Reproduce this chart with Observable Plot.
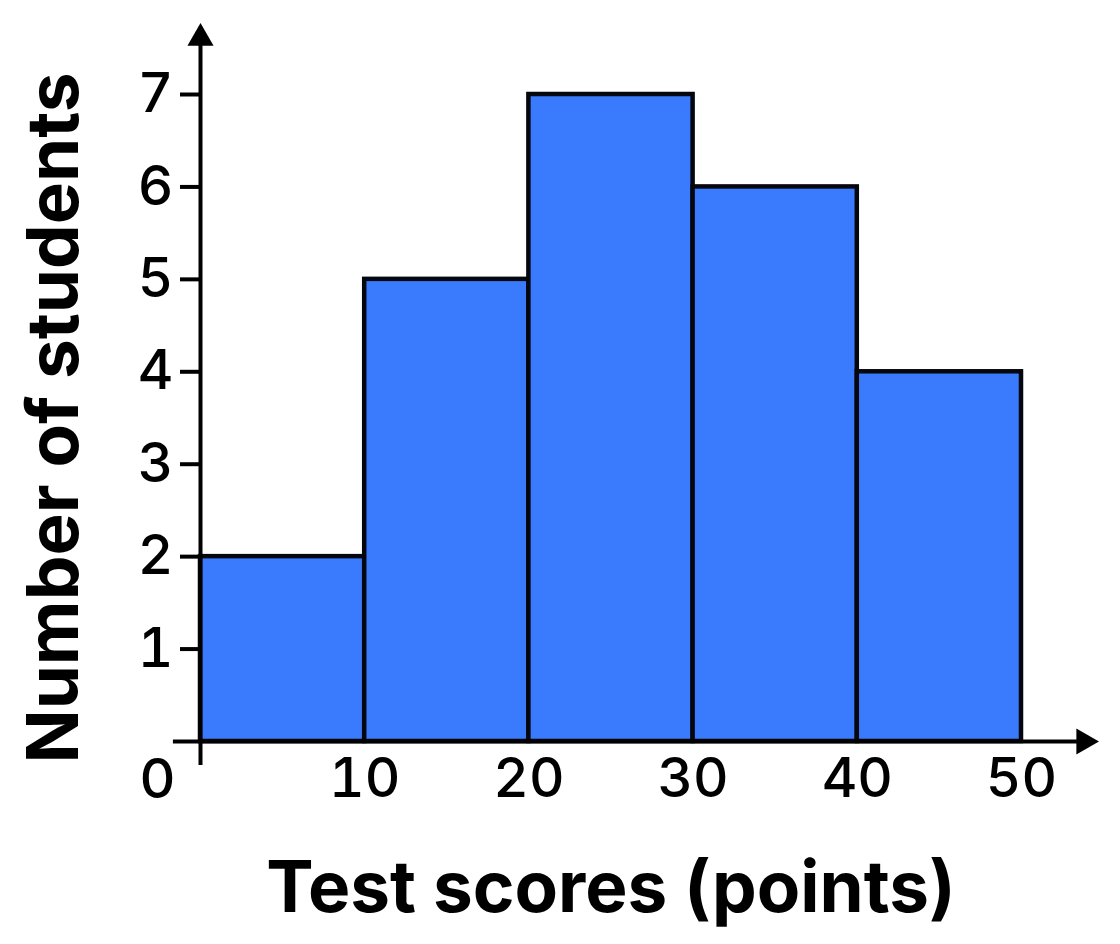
<!DOCTYPE html>
<html>
<head>
<meta charset="utf-8">
<script src="https://cdn.jsdelivr.net/npm/d3@7"></script>
<script src="https://cdn.jsdelivr.net/npm/@observablehq/plot@0.6"></script>
<style>
  html, body { margin: 0; padding: 0; background: #ffffff; }
  #chart svg { display: block; }
</style>
</head>
<body>
<div id="chart"></div>
<script>
// Data
const binStarts = [0, 10, 20, 30, 40];
const binEnds = [10, 20, 30, 40, 50];
const counts = [2, 5, 7, 6, 4];
const xTickValues = [10, 20, 30, 40, 50];
const yTickValues = [1, 2, 3, 4, 5, 6, 7];
const xTitle = "Test scores (points)";
const yTitle = "Number of students";

const bins = binStarts.map((x1, i) => ({x1, x2: binEnds[i], count: counts[i]}));

const font = "Inter, 'Open Sans', sans-serif";
const ink = "#000000";

const chart = Plot.plot({
  width: 1120,
  height: 944,
  marginLeft: 200,
  marginRight: 99,
  marginTop: 94,
  marginBottom: 203,
  style: {fontFamily: font, background: "#ffffff", color: ink},
  x: {domain: [0, 50]},
  y: {domain: [0, 7]},
  marks: [
    Plot.rectY(bins, {x1: "x1", x2: "x2", y1: 0, y2: "count", fill: "#3a7bfd", stroke: "#05070f", strokeWidth: 4.5, inset: 0}),
    // axis lines
    Plot.ruleX([0], {y1: -0.26, y2: 7.6, stroke: ink, strokeWidth: 4}),
    Plot.ruleY([0], {x1: -1.65, x2: 53.5, stroke: ink, strokeWidth: 4}),
    // arrow heads
    Plot.dot([{x: 0, y: 7.61}], {x: "x", y: "y", symbol: "triangle", r: 9.7, fill: ink, stroke: null}),
    Plot.dot([{x: 53.8, y: 0}], {x: "x", y: "y", symbol: "triangle", r: 9.7, fill: ink, stroke: null, rotate: 90}),
    // axes
    Plot.axisY(yTickValues, {tickSize: 20, tickPadding: 7, strokeWidth: 4, fontSize: 55, fontWeight: 500, tickFormat: d3.format("d"), label: null, stroke: ink, fill: ink}),
    Plot.axisX(xTickValues, {tickSize: 0, tickPadding: 16, fontSize: 55, fontWeight: 500, tickFormat: d3.format("d"), label: null, fill: ink}),
    Plot.text(["0"], {x: 0, y: 0, dx: -43, dy: 39, fontSize: 55, fontWeight: 500, fill: ink, text: d => d}),
    // titles
    Plot.text([xTitle], {frameAnchor: "bottom", dy: 148 + 22, fontSize: 71, fontWeight: "bold", fill: ink, text: d => d}),
    Plot.text([yTitle], {frameAnchor: "left", dx: -145, rotate: -90, textAnchor: "middle", fontSize: 71, fontWeight: "bold", fill: ink, text: d => d})
  ]
});
document.getElementById("chart").append(chart);
</script>
</body>
</html>
